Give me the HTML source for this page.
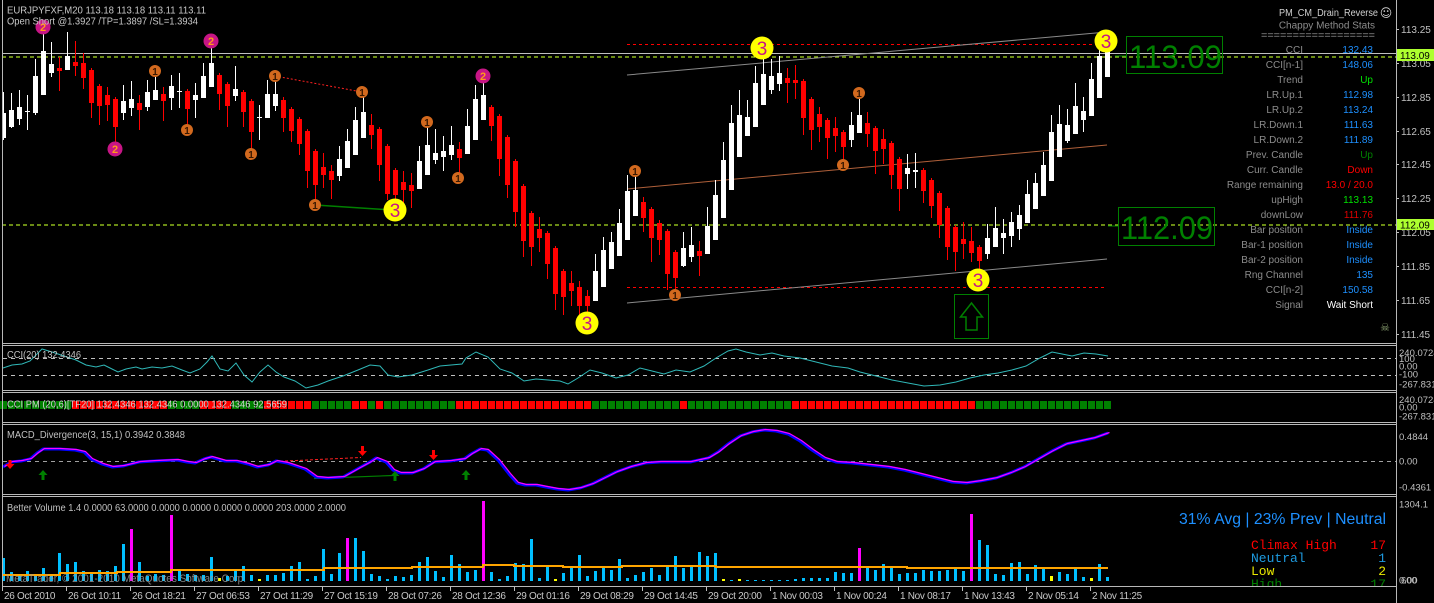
<!DOCTYPE html>
<html>
<head>
<meta charset="utf-8">
<style>
html,body{margin:0;padding:0;background:#000;}
body{width:1434px;height:603px;overflow:hidden;}
svg{display:block;font-family:"Liberation Sans",Arial,sans-serif;}
</style>
</head>
<body>
<svg width="1434" height="603" viewBox="0 0 1434 603" xmlns="http://www.w3.org/2000/svg">
<defs>
<clipPath id="cMain"><rect x="3" y="0" width="1393" height="343"/></clipPath>
<clipPath id="cVol"><rect x="3" y="497" width="1393" height="89"/></clipPath>
<pattern id="sep" x="0" y="0" width="8" height="10" patternUnits="userSpaceOnUse"><rect x="7" y="0" width="1" height="10" fill="#000"/></pattern>
</defs>
<rect width="1434" height="603" fill="#000"/>

<!-- ================= MAIN CHART ================= -->
<g clip-path="url(#cMain)">
  <!-- horizontal levels -->
  <line x1="2" y1="53.5" x2="1396" y2="53.5" stroke="#c0c0c0" stroke-width="1"/>
  <line x1="2" y1="57" x2="1396" y2="57" stroke="#aadd22" stroke-width="1.2" stroke-dasharray="4,3"/>
  <line x1="2" y1="225" x2="1396" y2="225" stroke="#aadd22" stroke-width="1.2" stroke-dasharray="4,3"/>
  <line x1="627" y1="44.5" x2="1104" y2="44.5" stroke="#ff0000" stroke-width="1" stroke-dasharray="3,3"/>
  <line x1="627" y1="287.5" x2="1104" y2="287.5" stroke="#ff0000" stroke-width="1" stroke-dasharray="3,3"/>
  <!-- regression channel -->
  <line x1="627" y1="75" x2="1107" y2="32" stroke="#8a8a8a" stroke-width="1"/>
  <line x1="627" y1="189" x2="1107" y2="145" stroke="#b0603a" stroke-width="1"/>
  <line x1="627" y1="303" x2="1107" y2="259" stroke="#8a8a8a" stroke-width="1"/>
  <!-- trendlines -->
  <line x1="275" y1="76" x2="362" y2="92" stroke="#ff2020" stroke-width="1" stroke-dasharray="2,2"/>
  <line x1="315" y1="205" x2="392" y2="210" stroke="#008000" stroke-width="1.5"/>

  <!-- candles white -->
  <path fill="none" stroke="#fff" stroke-width="1" d="M3.5 92V140M11.5 93V128M19.5 90V125M27.5 95V130M35.5 59V115M43.5 33V95M51.5 42V77M67.5 32V70M123.5 85V120M131.5 81V116M147.5 80V111M155.5 77V100M171.5 75V110M179.5 73V108M195.5 83V118M203.5 63V98M211.5 42V87M235.5 66V101M259.5 105V140M267.5 80V118M275.5 76V111M339.5 146V181M347.5 129V168M355.5 107V155M363.5 92V138M419.5 146V189M427.5 122V175M435.5 129V164M443.5 136V171M451.5 126V160M467.5 109V154M475.5 85V140M483.5 77V120M595.5 254V301M603.5 237V287M611.5 232V269M619.5 209V256M627.5 175V240M635.5 171V216M683.5 232V267M691.5 227V262M707.5 207V254M715.5 180V240M723.5 142V218M731.5 105V190M739.5 90V157M747.5 100V136M755.5 66V127M763.5 57V105M771.5 59V94M779.5 56V91M851.5 112V147M859.5 93V133M907.5 154V189M915.5 153V188M987.5 224V259M995.5 207V247M1003.5 219V254M1011.5 212V247M1019.5 205V240M1027.5 180V223M1035.5 173V209M1043.5 152V196M1051.5 115V181M1059.5 105V157M1067.5 109V143M1075.5 83V134M1083.5 97V132M1091.5 63V116M1099.5 50V98M1107.5 40V77"/>
  <path fill="#fff" d="M1 113h5v25h-5zM9 110h5v17h-5zM17 107h5v12h-5zM25 111h5v1h-5zM33 76h5v37h-5zM41 51h5v44h-5zM49 64h5v9h-5zM65 56h5v14h-5zM121 101h5v12h-5zM129 99h5v9h-5zM145 92h5v15h-5zM153 90h5v10h-5zM169 86h5v12h-5zM177 91h5v1h-5zM193 95h5v5h-5zM201 76h5v22h-5zM209 63h5v24h-5zM233 89h5v7h-5zM257 117h5v1h-5zM265 94h5v24h-5zM273 94h5v12h-5zM337 159h5v17h-5zM345 141h5v27h-5zM353 120h5v35h-5zM361 112h5v26h-5zM417 161h5v28h-5zM425 145h5v30h-5zM433 153h5v7h-5zM441 151h5v6h-5zM449 145h5v10h-5zM465 126h5v28h-5zM473 99h5v41h-5zM481 95h5v25h-5zM593 271h5v30h-5zM601 250h5v37h-5zM609 242h5v27h-5zM617 223h5v33h-5zM625 191h5v49h-5zM633 190h5v26h-5zM681 248h5v18h-5zM689 245h5v12h-5zM705 226h5v28h-5zM713 195h5v45h-5zM721 160h5v58h-5zM729 123h5v67h-5zM737 115h5v42h-5zM745 117h5v19h-5zM753 83h5v44h-5zM761 74h5v31h-5zM769 76h5v14h-5zM777 73h5v11h-5zM849 125h5v15h-5zM857 115h5v18h-5zM905 168h5v6h-5zM913 170h5v2h-5zM985 238h5v16h-5zM993 228h5v19h-5zM1001 233h5v5h-5zM1009 222h5v14h-5zM1017 215h5v14h-5zM1025 194h5v29h-5zM1033 183h5v26h-5zM1041 165h5v31h-5zM1049 132h5v49h-5zM1057 124h5v33h-5zM1065 125h5v16h-5zM1073 106h5v28h-5zM1081 111h5v9h-5zM1089 79h5v37h-5zM1097 56h5v42h-5zM1105 50h5v27h-5z"/>
  <!-- candles red -->
  <path fill="none" stroke="#ff0000" stroke-width="1" d="M59.5 57V91M75.5 41V76M83.5 53V89M91.5 68V118M99.5 84V125M107.5 87V121M115.5 97V150M139.5 95V130M163.5 87V121M187.5 89V125M219.5 73V110M227.5 82V127M243.5 90V127M251.5 99V150M283.5 97V132M291.5 107V142M299.5 117V155M307.5 129V188M315.5 149V205M323.5 153V188M331.5 165V199M371.5 114V149M379.5 127V181M387.5 144V200M395.5 168V202M403.5 171V205M411.5 173V208M459.5 142V178M491.5 105V141M499.5 114V176M507.5 135V198M515.5 159V227M523.5 184V257M531.5 211V266M539.5 217V252M547.5 231V279M555.5 246V310M563.5 269V315M571.5 271V306M579.5 281V315M587.5 290V313M643.5 197V232M651.5 207V262M659.5 220V255M667.5 229V290M675.5 250V295M699.5 241V276M787.5 68V103M795.5 65V99M803.5 79V135M811.5 97V150M819.5 107V142M827.5 118V159M835.5 117V152M843.5 130V166M867.5 112V147M875.5 126V174M883.5 129V164M891.5 141V189M899.5 157V211M923.5 168V203M931.5 178V218M939.5 191V238M947.5 206V260M955.5 225V271M963.5 222V259M971.5 227V262M979.5 245V270"/>
  <path fill="#ff0000" d="M57 68h5v3h-5zM73 62h5v4h-5zM81 63h5v15h-5zM89 70h5v33h-5zM97 86h5v20h-5zM105 95h5v10h-5zM113 99h5v28h-5zM137 103h5v7h-5zM161 94h5v7h-5zM185 91h5v18h-5zM217 75h5v19h-5zM225 84h5v22h-5zM241 92h5v20h-5zM249 101h5v31h-5zM281 100h5v18h-5zM289 109h5v22h-5zM297 119h5v25h-5zM305 131h5v40h-5zM313 151h5v34h-5zM321 167h5v8h-5zM329 171h5v9h-5zM369 125h5v10h-5zM377 129h5v36h-5zM385 146h5v48h-5zM393 170h5v25h-5zM401 182h5v8h-5zM409 185h5v6h-5zM457 149h5v9h-5zM489 107h5v19h-5zM497 116h5v43h-5zM505 137h5v48h-5zM513 161h5v51h-5zM521 186h5v55h-5zM529 213h5v34h-5zM537 229h5v9h-5zM545 233h5v31h-5zM553 248h5v46h-5zM561 271h5v26h-5zM569 283h5v8h-5zM577 287h5v19h-5zM585 296h5v10h-5zM641 202h5v16h-5zM649 209h5v29h-5zM657 223h5v17h-5zM665 231h5v43h-5zM673 252h5v26h-5zM697 251h5v5h-5zM785 78h5v5h-5zM793 80h5v3h-5zM801 81h5v37h-5zM809 99h5v31h-5zM817 114h5v13h-5zM825 120h5v18h-5zM833 128h5v8h-5zM841 132h5v15h-5zM865 123h5v11h-5zM873 128h5v23h-5zM881 139h5v10h-5zM889 143h5v32h-5zM897 159h5v30h-5zM921 170h5v21h-5zM929 180h5v26h-5zM937 193h5v32h-5zM945 208h5v39h-5zM953 227h5v25h-5zM961 239h5v5h-5zM969 241h5v12h-5zM977 247h5v14h-5z"/>

  <!-- markers: purple 2 -->
  <g fill="#c71585">
    <circle cx="43" cy="27" r="7.5"/><circle cx="115" cy="149" r="7.5"/><circle cx="211" cy="41" r="7.5"/><circle cx="483" cy="76" r="7.5"/>
  </g>
  <g fill="#ff9a1a" font-size="11" font-weight="bold" text-anchor="middle">
    <text x="43" y="31">2</text><text x="115" y="153">2</text><text x="211" y="45">2</text><text x="483" y="80">2</text>
  </g>
  <!-- markers: orange 1 -->
  <g fill="#d2691e">
    <circle cx="155" cy="71" r="6"/><circle cx="187" cy="130" r="6"/><circle cx="251" cy="154" r="6"/><circle cx="275" cy="76" r="6"/><circle cx="315" cy="205" r="6"/><circle cx="362" cy="92" r="6"/><circle cx="427" cy="122" r="6"/><circle cx="458" cy="178" r="6"/><circle cx="635" cy="171" r="6"/><circle cx="675" cy="295" r="6"/><circle cx="843" cy="165" r="6"/><circle cx="859" cy="93" r="6"/>
  </g>
  <g fill="#3a1800" font-size="10" font-weight="bold" text-anchor="middle">
    <text x="155" y="75">1</text><text x="187" y="134">1</text><text x="251" y="158">1</text><text x="275" y="80">1</text><text x="315" y="209">1</text><text x="362" y="96">1</text><text x="427" y="126">1</text><text x="458" y="182">1</text><text x="635" y="175">1</text><text x="675" y="299">1</text><text x="843" y="169">1</text><text x="859" y="97">1</text>
  </g>
  <!-- markers: yellow 3 -->
  <g fill="#ffff00">
    <circle cx="395" cy="210" r="11.5"/><circle cx="587" cy="323" r="11.5"/><circle cx="762" cy="48" r="11.5"/><circle cx="978" cy="280" r="11.5"/><circle cx="1106" cy="41" r="11.5"/>
  </g>
  <g fill="#c71585" font-size="19" text-anchor="middle">
    <text x="395" y="217">3</text><text x="587" y="330">3</text><text x="762" y="55">3</text><text x="978" y="287">3</text><text x="1106" y="48">3</text>
  </g>

  <!-- big level labels -->
  <line x1="1115" y1="56" x2="1126" y2="56" stroke="#008000" stroke-width="1"/>
  <rect x="1126.5" y="36.5" width="96" height="37" fill="none" stroke="#008000" stroke-width="1"/>
  <text x="1129" y="68" font-size="32" fill="#008000" textLength="93" lengthAdjust="spacingAndGlyphs">113.09</text>
  <line x1="1108" y1="226" x2="1118" y2="226" stroke="#008000" stroke-width="1"/>
  <rect x="1118.5" y="207.5" width="96" height="38" fill="none" stroke="#008000" stroke-width="1"/>
  <text x="1121" y="239" font-size="32" fill="#008000" textLength="92" lengthAdjust="spacingAndGlyphs">112.09</text>
  <!-- up arrow box -->
  <rect x="954.5" y="294.5" width="34" height="44" fill="none" stroke="#008000" stroke-width="1"/>
  <polygon points="971.5,303 960.5,317 966,317 966,330 977,330 977,317 982.5,317" fill="none" stroke="#008000" stroke-width="1.5"/>

  <!-- header -->
  <text x="7" y="13.5" font-size="10" fill="#c8c8c8" textLength="199" lengthAdjust="spacingAndGlyphs">EURJPYFXF,M20  113.18 113.18 113.11 113.11</text>
  <text x="7" y="24.5" font-size="10" fill="#c8c8c8" textLength="191" lengthAdjust="spacingAndGlyphs">Open Short @1.3927 /TP=1.3897 /SL=1.3934</text>

  <!-- stats panel -->
  <text x="1378" y="16" font-size="10" fill="#d0d0d0" text-anchor="end" textLength="99" lengthAdjust="spacingAndGlyphs">PM_CM_Drain_Reverse</text>
  <text x="1386" y="17" font-size="12" fill="#d0d0d0" text-anchor="middle" font-family="DejaVu Sans, sans-serif">☺</text>
  <text x="1375" y="28.5" font-size="10" fill="#8c8c8c" text-anchor="end">Chappy Method Stats</text>
  <text x="1375" y="38.5" font-size="10" fill="#8c8c8c" text-anchor="end" textLength="114" lengthAdjust="spacingAndGlyphs">==================</text>
  <g font-size="10" fill="#8c8c8c" text-anchor="end">
    <text x="1303" y="53">CCI</text>
    <text x="1303" y="68">CCI[n-1]</text>
    <text x="1303" y="83">Trend</text>
    <text x="1303" y="98">LR.Up.1</text>
    <text x="1303" y="113">LR.Up.2</text>
    <text x="1303" y="128">LR.Down.1</text>
    <text x="1303" y="143">LR.Down.2</text>
    <text x="1303" y="158">Prev. Candle</text>
    <text x="1303" y="173">Curr. Candle</text>
    <text x="1303" y="188">Range remaining</text>
    <text x="1303" y="203">upHigh</text>
    <text x="1303" y="218">downLow</text>
    <text x="1303" y="233">Bar position</text>
    <text x="1303" y="248">Bar-1 position</text>
    <text x="1303" y="263">Bar-2 position</text>
    <text x="1303" y="278">Rng Channel</text>
    <text x="1303" y="293">CCI[n-2]</text>
    <text x="1303" y="308">Signal</text>
  </g>
  <g font-size="10" text-anchor="end">
    <text x="1373" y="53" fill="#1e90ff">132.43</text>
    <text x="1373" y="68" fill="#1e90ff">148.06</text>
    <text x="1373" y="83" fill="#00e000">Up</text>
    <text x="1373" y="98" fill="#1e90ff">112.98</text>
    <text x="1373" y="113" fill="#1e90ff">113.24</text>
    <text x="1373" y="128" fill="#1e90ff">111.63</text>
    <text x="1373" y="143" fill="#1e90ff">111.89</text>
    <text x="1373" y="158" fill="#008000">Up</text>
    <text x="1373" y="173" fill="#ff0000">Down</text>
    <text x="1373" y="188" fill="#ff0000">13.0 / 20.0</text>
    <text x="1373" y="203" fill="#00e000">113.13</text>
    <text x="1373" y="218" fill="#e00000">111.76</text>
    <text x="1373" y="233" fill="#1e90ff">Inside</text>
    <text x="1373" y="248" fill="#1e90ff">Inside</text>
    <text x="1373" y="263" fill="#1e90ff">Inside</text>
    <text x="1373" y="278" fill="#1e90ff">135</text>
    <text x="1373" y="293" fill="#1e90ff">150.58</text>
    <text x="1373" y="308" fill="#ffffff">Wait Short</text>
  </g>
  <text x="1385" y="331" font-size="11" fill="#8aa070" text-anchor="middle" font-family="DejaVu Sans, sans-serif">☠</text>
</g>

<!-- main price axis -->
<g stroke="#c0c0c0" stroke-width="1">
  <path d="M1396 29.5h3M1396 63.5h3M1396 97.5h3M1396 131.5h3M1396 164.5h3M1396 198.5h3M1396 232.5h3M1396 266.5h3M1396 300.5h3M1396 334.5h3"/>
</g>
<g font-size="10" fill="#c0c0c0">
  <text x="1401" y="33">113.25</text>
  <text x="1401" y="67">113.05</text>
  <text x="1401" y="101">112.85</text>
  <text x="1401" y="135">112.65</text>
  <text x="1401" y="168">112.45</text>
  <text x="1401" y="202">112.25</text>
  <text x="1401" y="236">112.05</text>
  <text x="1401" y="270">111.85</text>
  <text x="1401" y="304">111.65</text>
  <text x="1401" y="338">111.45</text>
</g>
<rect x="1397" y="49" width="37" height="12" fill="#adff2f"/>
<text x="1400" y="59" font-size="10" fill="#000">113.09</text>
<rect x="1397" y="219" width="37" height="11" fill="#adff2f"/>
<text x="1400" y="228.5" font-size="10" fill="#000">112.09</text>

<!-- ================= CCI PANEL ================= -->
<line x1="3" y1="358.5" x2="1396" y2="358.5" stroke="#c0c0c0" stroke-width="1" stroke-dasharray="4,4"/>
<line x1="3" y1="375.5" x2="1396" y2="375.5" stroke="#c0c0c0" stroke-width="1" stroke-dasharray="4,4"/>
<polyline fill="none" stroke="#30b8b8" stroke-width="1" points="3,368 12,365 22,364 30,361 36,355 42,349 52,352 64,356 76,360 86,365 96,367 104,365 110,368 118,372 126,369 136,367 142,369 152,367 162,368 172,366 182,370 190,373 200,369 207,362 212,356 220,369 228,371 236,363 244,375 252,382 260,372 268,365 276,372 284,377 295,381 306,388 318,385 328,381 343,376 358,370 370,365 380,366 388,375 398,377 412,375 428,370 440,366 462,364 466,358 476,352 488,357 500,369 512,373 524,381 536,379 548,380 560,381 568,384 578,378 590,370 602,373 616,378 628,375 640,368 652,371 664,374 676,370 690,372 704,366 716,358 728,351 736,349 746,352 760,355 772,353 784,356 800,358 816,362 832,366 848,368 860,372 876,376 892,380 908,383 924,386 940,385 956,382 970,378 984,375 998,373 1012,370 1026,366 1040,358 1052,352 1062,354 1072,356 1084,353 1096,354 1108,356"/>
<text x="7" y="358" font-size="10" fill="#c0c0c0" textLength="74" lengthAdjust="spacingAndGlyphs">CCI(20) 132.4346</text>
<g font-size="9.5" fill="#c0c0c0">
  <text x="1399" y="356">240.0724</text>
  <text x="1399" y="362">100</text>
  <text x="1399" y="369.5">0.00</text>
  <text x="1399" y="377.5">-100</text>
  <text x="1399" y="387.5">-267.831</text>
</g>

<!-- ================= CCI PM PANEL ================= -->
<g>
  <rect x="0" y="401" width="72" height="8" fill="#008000"/>
  <rect x="72" y="401" width="96" height="8" fill="#ff0000"/>
  <rect x="168" y="401" width="32" height="8" fill="#008000"/>
  <rect x="200" y="401" width="32" height="8" fill="#ff0000"/>
  <rect x="232" y="401" width="32" height="8" fill="#008000"/>
  <rect x="264" y="401" width="48" height="8" fill="#ff0000"/>
  <rect x="312" y="401" width="40" height="8" fill="#008000"/>
  <rect x="352" y="401" width="16" height="8" fill="#ff0000"/>
  <rect x="368" y="401" width="8" height="8" fill="#008000"/>
  <rect x="376" y="401" width="8" height="8" fill="#ff0000"/>
  <rect x="384" y="401" width="72" height="8" fill="#008000"/>
  <rect x="456" y="401" width="136" height="8" fill="#ff0000"/>
  <rect x="592" y="401" width="88" height="8" fill="#008000"/>
  <rect x="680" y="401" width="8" height="8" fill="#ff0000"/>
  <rect x="688" y="401" width="104" height="8" fill="#008000"/>
  <rect x="792" y="401" width="184" height="8" fill="#ff0000"/>
  <rect x="976" y="401" width="136" height="8" fill="#008000"/>
  <rect x="0" y="401" width="1112" height="8" fill="url(#sep)"/>
</g>
<text x="7" y="407.5" font-size="10" fill="#d0d0d0" textLength="280" lengthAdjust="spacingAndGlyphs">CCI PM (20,6)[TF20] 132.4346 132.4346 0.0000 132.4346 92.5659</text>
<g font-size="9.5" fill="#c0c0c0">
  <text x="1399" y="403">240.0724</text>
  <text x="1399" y="410.5">0.00</text>
  <text x="1399" y="419.5">-267.831</text>
</g>

<!-- ================= MACD PANEL ================= -->
<line x1="3" y1="461.5" x2="1396" y2="461.5" stroke="#a0a0a0" stroke-width="1" stroke-dasharray="4,4"/>
<line x1="275" y1="461.5" x2="361" y2="457.5" stroke="#ff2020" stroke-width="1" stroke-dasharray="3,2"/>
<line x1="314" y1="478.5" x2="393" y2="475.5" stroke="#008000" stroke-width="1.2"/>
<polyline fill="none" stroke="#0000ff" stroke-width="3" stroke-linejoin="round" points="3,467 11,462 21,461 30,459 37,453 43,449 50,449 59,449 75,450 84,452 91,459 102,464 112,467 123,466 139,462 155,461 177,460 187,462 195,463 204,459 211,457 225,461 236,461 248,464 257,467 268,465 276,461 287,463 305,469 316,477 327,478 343,477 359,468 370,462 376,458 386,462 393,470 400,473 412,473 423,469 434,462 450,461 464,459 471,454 480,449 487,450 498,460 509,474 517,483 525,485 536,485 546,487 557,489 568,490 580,488 592,484 604,478 616,472 630,467 645,463 660,462 690,462 708,458 718,452 728,444 740,436 752,432 764,430 776,431 788,434 800,441 812,450 824,458 836,462 852,463 870,465 888,467 904,470 920,474 936,478 952,482 966,483 980,481 996,478 1010,473 1024,467 1038,459 1052,451 1066,444 1080,441 1094,438 1108,433"/>
<polyline fill="none" stroke="#ff00ff" stroke-width="1.2" transform="translate(1.5,-0.5)" points="3,467 11,462 21,461 30,459 37,453 43,449 50,449 59,449 75,450 84,452 91,459 102,464 112,467 123,466 139,462 155,461 177,460 187,462 195,463 204,459 211,457 225,461 236,461 248,464 257,467 268,465 276,461 287,463 305,469 316,477 327,478 343,477 359,468 370,462 376,458 386,462 393,470 400,473 412,473 423,469 434,462 450,461 464,459 471,454 480,449 487,450 498,460 509,474 517,483 525,485 536,485 546,487 557,489 568,490 580,488 592,484 604,478 616,472 630,467 645,463 660,462 690,462 708,458 718,452 728,444 740,436 752,432 764,430 776,431 788,434 800,441 812,450 824,458 836,462 852,463 870,465 888,467 904,470 920,474 936,478 952,482 966,483 980,481 996,478 1010,473 1024,467 1038,459 1052,451 1066,444 1080,441 1094,438 1108,433"/>
<!-- arrows -->
<g fill="#ff0000">
  <path d="M8.5 460h3v4h3l-4.5 5l-4.5-5h3z"/>
  <path d="M361 446h3v5h3l-4.5 5l-4.5-5h3z"/>
  <path d="M432 450h3v5h3l-4.5 5l-4.5-5h3z"/>
</g>
<g fill="#008000">
  <path d="M43 470l4.5 5h-3v5h-3v-5h-3z"/>
  <path d="M395 471l4.5 5h-3v5h-3v-5h-3z"/>
  <path d="M466 470l4.5 5h-3v5h-3v-5h-3z"/>
</g>
<text x="7" y="438" font-size="10" fill="#c0c0c0" textLength="178" lengthAdjust="spacingAndGlyphs">MACD_Divergence(3, 15,1) 0.3942 0.3848</text>
<g font-size="9.5" fill="#c0c0c0">
  <text x="1399" y="440">0.4844</text>
  <text x="1399" y="464.5">0.00</text>
  <text x="1399" y="490.5">-0.4361</text>
</g>

<!-- ================= VOLUME PANEL ================= -->
<g clip-path="url(#cVol)">
  <path fill="none" stroke="#00bfff" stroke-width="3" d="M3.5 558V581M11.5 572V581M19.5 576V581M27.5 571V581M35.5 576V581M43.5 568V581M51.5 576V581M59.5 553V581M67.5 564V581M75.5 562V581M83.5 571V581M91.5 572V581M99.5 570V581M107.5 571V581M115.5 566V581M123.5 544V581M139.5 562V581M147.5 576V581M155.5 574V581M163.5 575V581M179.5 571V581M187.5 574V581M195.5 575V581M203.5 575V581M211.5 557V581M227.5 576V581M235.5 571V581M243.5 566V581M251.5 575V581M267.5 575V581M275.5 575V581M283.5 573V581M291.5 566V581M299.5 562V581M307.5 579V581M315.5 576V581M323.5 549V581M331.5 574V581M339.5 553V581M355.5 538V581M363.5 551V581M371.5 574V581M379.5 576V581M387.5 579V581M395.5 576V581M403.5 577V581M411.5 575V581M419.5 562V581M427.5 557V581M435.5 571V581M443.5 577V581M451.5 555V581M459.5 564V581M467.5 572V581M475.5 570V581M491.5 572V581M499.5 579V581M507.5 576V581M515.5 563V581M523.5 564V581M531.5 539V581M539.5 578V581M547.5 567V581M563.5 573V581M571.5 566V581M579.5 555V581M587.5 576V581M595.5 571V581M603.5 566V581M611.5 570V581M619.5 559V581M627.5 578V581M635.5 575V581M643.5 572V581M651.5 568V581M659.5 575V581M667.5 566V581M675.5 556V581M683.5 568V581M691.5 566V581M699.5 552V581M707.5 556V581M715.5 553V581M731.5 580V581M747.5 580V581M755.5 580V581M763.5 580V581M771.5 580V581M779.5 580V581M787.5 580V581M795.5 579V581M803.5 578V581M811.5 578V581M819.5 578V581M827.5 578V581M835.5 572V581M843.5 573V581M851.5 573V581M867.5 568V581M875.5 570V581M883.5 564V581M891.5 567V581M899.5 574V581M907.5 573V581M915.5 573V581M923.5 570V581M931.5 571V581M939.5 571V581M947.5 570V581M955.5 567V581M963.5 571V581M979.5 540V581M987.5 545V581M995.5 574V581M1003.5 575V581M1011.5 563V581M1019.5 562V581M1027.5 574V581M1035.5 565V581M1043.5 568V581M1059.5 572V581M1067.5 574V581M1075.5 568V581M1083.5 577V581M1099.5 564V581M1107.5 577V581"/>
  <path fill="none" stroke="#ff00ff" stroke-width="3" d="M131.5 529V581M171.5 515V581M347.5 538V581M483.5 501V581M859.5 548V581M971.5 514V581"/>
  <path fill="none" stroke="#ffff00" stroke-width="3" d="M219.5 578V581M259.5 579V581M555.5 579V581M723.5 579V581M739.5 579V581M1051.5 576V581M1091.5 578V581"/>
  <path fill="none" stroke="#ffa500" stroke-width="2" d="M3 575H60V573H117V572H171V570H324V568H412V567H483V565H514V566H563V567H622V566H716V567H907V568H1108"/>
  <text x="7" y="511" font-size="10" fill="#c0c0c0" textLength="339" lengthAdjust="spacingAndGlyphs">Better Volume 1.4 0.0000 63.0000 0.0000 0.0000 0.0000 0.0000 203.0000 2.0000</text>
  <text x="6" y="582" font-size="11" fill="#9a9a9a" opacity="0.85" textLength="240" lengthAdjust="spacingAndGlyphs">MetaTrader, © 2001-2010 MetaQuotes Software Corp.</text>
  <text x="1386" y="524" font-size="16" fill="#1e90ff" text-anchor="end" textLength="207" lengthAdjust="spacingAndGlyphs">31% Avg | 23% Prev | Neutral</text>
  <g font-family="Liberation Mono, monospace" font-size="13">
    <text x="1251" y="549" fill="#ff0000">Climax High</text>
    <text x="1386" y="549" fill="#ff0000" text-anchor="end">17</text>
    <text x="1251" y="562" fill="#1e9be0">Neutral</text>
    <text x="1386" y="562" fill="#1e9be0" text-anchor="end">1</text>
    <text x="1251" y="575" fill="#e8e800">Low</text>
    <text x="1386" y="575" fill="#e8e800" text-anchor="end">2</text>
    <text x="1251" y="588" fill="#008000">High</text>
    <text x="1386" y="588" fill="#008000" text-anchor="end">17</text>
  </g>
</g>
<g font-size="9.5" fill="#c0c0c0">
  <text x="1399" y="507.5">1304.1</text>
  <text x="1399" y="583.5">0.00</text>
  <text x="1401" y="583.5">600</text>
</g>

<!-- ================= FRAMES ================= -->
<g stroke="#b8b8b8" stroke-width="1" fill="none">
  <line x1="2.5" y1="0" x2="2.5" y2="587"/>
  <line x1="1396.5" y1="0" x2="1396.5" y2="603"/>
  <line x1="2" y1="343.5" x2="1397" y2="343.5"/>
  <line x1="2" y1="345.5" x2="1397" y2="345.5"/>
  <line x1="2" y1="390.5" x2="1397" y2="390.5"/>
  <line x1="2" y1="392.5" x2="1397" y2="392.5"/>
  <line x1="2" y1="422.5" x2="1397" y2="422.5"/>
  <line x1="2" y1="424.5" x2="1397" y2="424.5"/>
  <line x1="2" y1="494.5" x2="1397" y2="494.5"/>
  <line x1="2" y1="496.5" x2="1397" y2="496.5"/>
  <line x1="2" y1="586.5" x2="1397" y2="586.5"/>
</g>

<!-- ================= TIME AXIS ================= -->
<path stroke="#c0c0c0" stroke-width="1" d="M2.5 587v4M66.5 587v4M130.5 587v4M194.5 587v4M258.5 587v4M322.5 587v4M386.5 587v4M450.5 587v4M514.5 587v4M578.5 587v4M642.5 587v4M706.5 587v4M770.5 587v4M834.5 587v4M898.5 587v4M962.5 587v4M1026.5 587v4M1090.5 587v4"/>
<g font-size="10" fill="#c8c8c8" letter-spacing="-0.3">
  <text x="4" y="599">26 Oct 2010</text>
  <text x="68" y="599">26 Oct 10:11</text>
  <text x="132" y="599">26 Oct 18:21</text>
  <text x="196" y="599">27 Oct 06:53</text>
  <text x="260" y="599">27 Oct 11:29</text>
  <text x="324" y="599">27 Oct 15:19</text>
  <text x="388" y="599">28 Oct 07:26</text>
  <text x="452" y="599">28 Oct 12:36</text>
  <text x="516" y="599">29 Oct 01:16</text>
  <text x="580" y="599">29 Oct 08:29</text>
  <text x="644" y="599">29 Oct 14:45</text>
  <text x="708" y="599">29 Oct 20:00</text>
  <text x="772" y="599">1 Nov 00:03</text>
  <text x="836" y="599">1 Nov 00:24</text>
  <text x="900" y="599">1 Nov 08:17</text>
  <text x="964" y="599">1 Nov 13:43</text>
  <text x="1028" y="599">2 Nov 05:14</text>
  <text x="1092" y="599">2 Nov 11:25</text>
</g>
</svg>
</body>
</html>
